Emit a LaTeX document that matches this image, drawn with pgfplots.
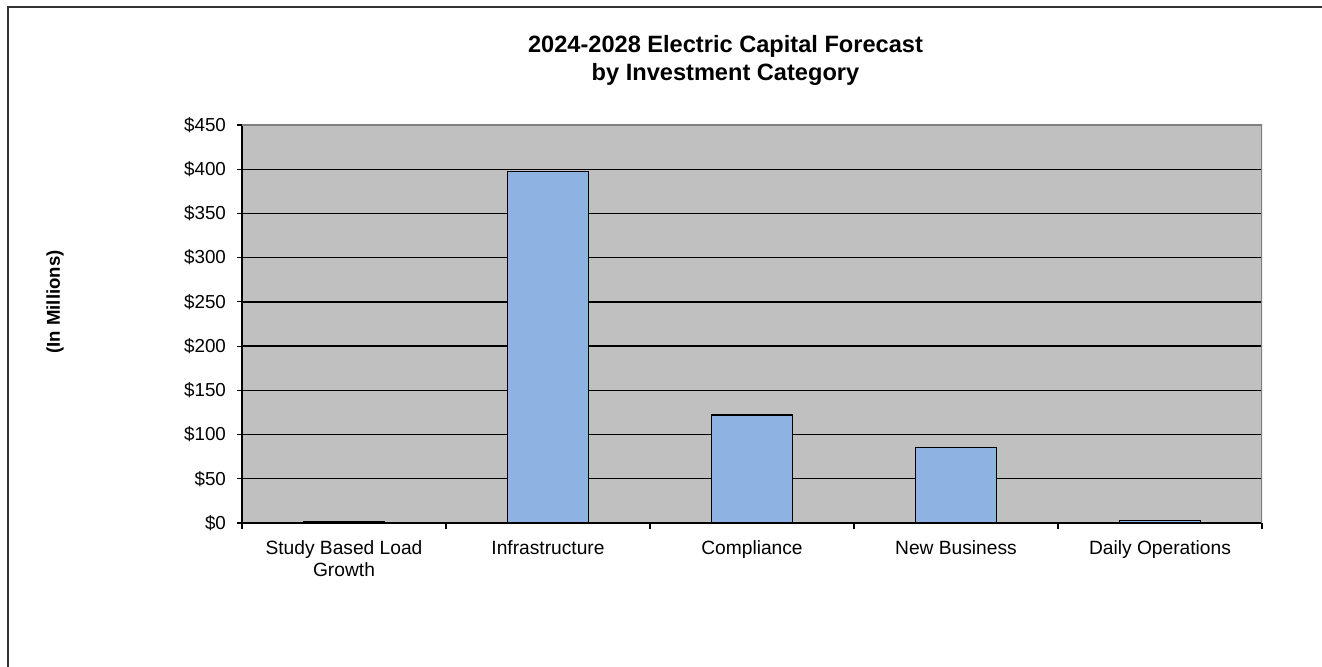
\documentclass[border=0pt]{standalone}
\usepackage{fontspec}
\setmainfont{Liberation Sans}
\usepackage{pgfplots}
\pgfplotsset{compat=1.18}
\definecolor{plotgray}{RGB}{192,192,192}
\definecolor{barblue}{RGB}{142,179,226}
\definecolor{framegray}{RGB}{128,128,128}
\begin{document}
\begin{tikzpicture}
\path[use as bounding box] (0,0) rectangle (661pt,333.5pt);
\draw[line width=1pt, black!80] (4pt,0) -- (4pt,330pt) -- (661pt,330pt);
\begin{axis}[
  at={(121pt,72pt)}, anchor=south west,
  scale only axis, width=510pt, height=199pt,
  xmin=-0.5, xmax=4.5, ymin=0, ymax=450,
  axis background/.style={fill=plotgray},
  axis x line*=bottom, axis y line*=left,
  axis line style={black, line width=0.6pt},
  tick align=outside,
  ytick={0,50,...,450},
  yticklabel={\$\pgfmathprintnumber{\tick}},
  /pgf/number format/assume math mode=true,
  major tick length=2.5pt,
  minor tick length=3pt,
  tick style={black, line width=0.6pt},
  xtick={0,1,2,3,4},
  major x tick style={draw=none},
  minor xtick={-0.5,0.5,1.5,2.5,3.5,4.5},
  xticklabels={{Study Based Load\\Growth},Infrastructure,Compliance,New Business,Daily Operations},
  xticklabel style={align=center, font=\fontsize{9.6}{11}\selectfont, yshift=-3pt},
  yticklabel style={font=\fontsize{9.4}{11}\selectfont, xshift=-2pt},
  ymajorgrids,
  grid style={black, line width=0.7pt},
  ybar, bar width=0.4,
]
\addplot[fill=barblue, draw=black, line width=0.6pt] coordinates {(0,1.5) (1,397) (2,122) (3,85) (4,3)};
\draw[framegray, line width=0.6pt] (rel axis cs:0,1) -- (rel axis cs:1,1) -- (rel axis cs:1,0);
\end{axis}
\node[font=\bfseries\fontsize{11.8}{14}\selectfont, align=center] at (362.75pt,303.5pt) {2024-2028 Electric Capital Forecast\\by Investment Category};
\node[font=\bfseries\fontsize{9.3}{11}\selectfont, rotate=90] at (27.5pt,182.5pt) {(In Millions)};
\end{tikzpicture}
\end{document}
